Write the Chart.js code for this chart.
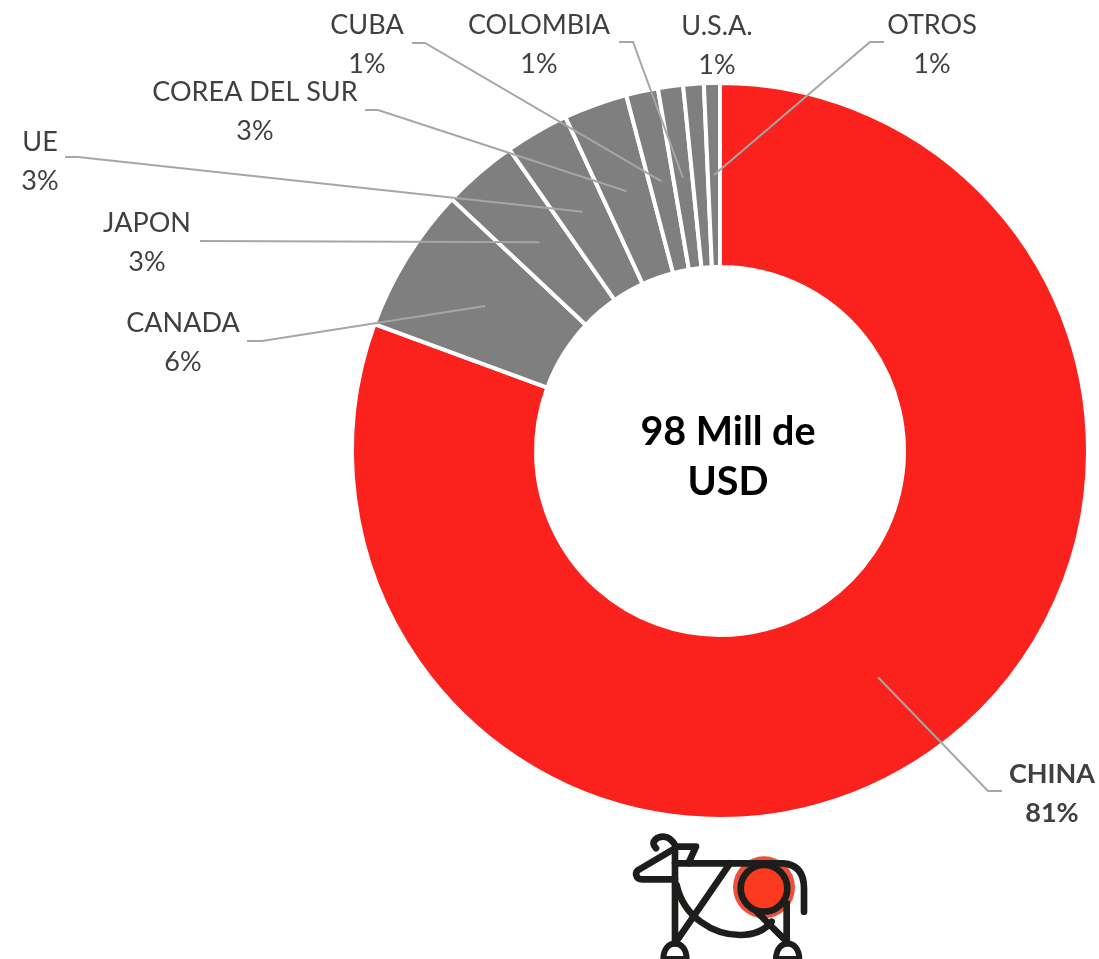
<!DOCTYPE html>
<html lang="es">
<head>
  <meta charset="UTF-8" />
  <title>Exportaciones</title>
  <script src="https://cdn.jsdelivr.net/npm/chart.js"></script>
  <style>
    html, body { margin: 0; padding: 0; background: #fff; overflow: hidden; }
    #wrap { position: relative; width: 1099px; height: 959px; }
    #logo { position: absolute; left: 620px; top: 820px; width: 200px; height: 139px; }
  </style>
</head>
<body>
  <div id="wrap">
    <canvas id="donut" width="1099" height="959"></canvas>
    <svg id="logo" viewBox="0 0 600 417" fill="none" stroke="#1d1d1b" stroke-width="20" stroke-linecap="round" stroke-linejoin="round">
      <circle cx="432" cy="202" r="93" fill="#ee4f3a" stroke="none" />
      <circle cx="432" cy="205" r="70" fill="#fb3a1f" />
      <path d="M165 130 H490 Q552 135 552 205 V275" />
      <path d="M165 85 V370 M330 130 L165 370 M500 250 V370 M410 275 L500 365" />
      <path d="M165 178 H68 C45 178 42 155 60 147 L165 85" />
      <path d="M108 85 C90 65 110 50 130 50 C150 50 160 65 168 80 H228 L205 130" />
      <path d="M170 195 C190 290 280 345 360 345 C400 345 435 330 455 305" />
      <path d="M130 417 C130 355 200 355 200 417 Z M468 417 C468 355 538 355 538 417 Z" stroke-width="18" />
    </svg>
  </div>
  <script>
    const categories = ['CHINA', 'CANADA', 'JAPON', 'UE', 'COREA DEL SUR', 'CUBA', 'COLOMBIA', 'U.S.A.', 'OTROS'];
    const values = [80.6, 6.4, 3.3, 2.8, 2.8, 1.4, 1.1, 0.9, 0.7];
    const percentLabels = ['81%', '6%', '3%', '3%', '3%', '1%', '1%', '1%', '1%'];
    const sliceColors = ['#fb211d', '#7f7f7f', '#7f7f7f', '#7f7f7f', '#7f7f7f', '#7f7f7f', '#7f7f7f', '#7f7f7f', '#7f7f7f'];
    const centerLines = ['98 Mill de', 'USD'];

    // donde va cada etiqueta y por donde pasa su linea guia
    const labelLayout = [
      { x: 1052, y: 774, bold: true, path: [[988, 791], [1002, 791]] },
      { x: 183, y: 323, path: [[262, 341], [247, 341]] },
      { x: 147, y: 223, path: [[200, 241]] },
      { x: 40, y: 142, path: [[78, 157], [65, 157]] },
      { x: 255, y: 92, path: [[378, 110], [365, 110]] },
      { x: 367, y: 25, path: [[425, 43], [412, 43]] },
      { x: 539, y: 25, path: [[633, 42], [619, 42]] },
      { x: 717, y: 26, path: [] },
      { x: 932, y: 25, path: [[870, 42], [884, 42]] }
    ];

    const labelsPlugin = {
      id: 'labelsPlugin',
      afterDatasetsDraw(chart) {
        const ctx = chart.ctx;
        const arcs = chart.getDatasetMeta(0).data;
        ctx.save();
        // lineas guia, salen del centro de cada porcion
        ctx.strokeStyle = '#a6a6a6';
        ctx.lineWidth = 2;
        arcs.forEach((arc, i) => {
          const path = labelLayout[i].path;
          if (!path.length) return;
          const c = arc.getCenterPoint();
          ctx.beginPath();
          ctx.moveTo(c.x, c.y);
          path.forEach(p => ctx.lineTo(p[0], p[1]));
          ctx.stroke();
        });
        // etiquetas
        ctx.textAlign = 'center';
        ctx.textBaseline = 'middle';
        ctx.fillStyle = '#404040';
        categories.forEach((name, i) => {
          const l = labelLayout[i];
          ctx.font = (l.bold ? 'bold ' : '') + '27px Lato';
          ctx.fillText(name, l.x, l.y);
          ctx.fillText(percentLabels[i], l.x, l.y + 39);
        });
        // texto central
        ctx.fillStyle = '#000';
        ctx.font = 'bold 39.5px Lato';
        ctx.fillText(centerLines[0], 728, 432);
        ctx.fillText(centerLines[1], 728, 482);
        ctx.restore();
      }
    };

    new Chart(document.getElementById('donut'), {
      type: 'doughnut',
      data: {
        labels: categories,
        datasets: [{
          data: values,
          backgroundColor: sliceColors,
          borderColor: '#fff',
          borderWidth: 4,
          borderJoinStyle: 'miter'
        }]
      },
      options: {
        responsive: false,
        animation: false,
        cutout: '50%',
        layout: { padding: { left: 350, right: 9, top: 81, bottom: 138 } },
        plugins: { legend: { display: false }, tooltip: { enabled: false } }
      },
      plugins: [labelsPlugin]
    });
  </script>
</body>
</html>
